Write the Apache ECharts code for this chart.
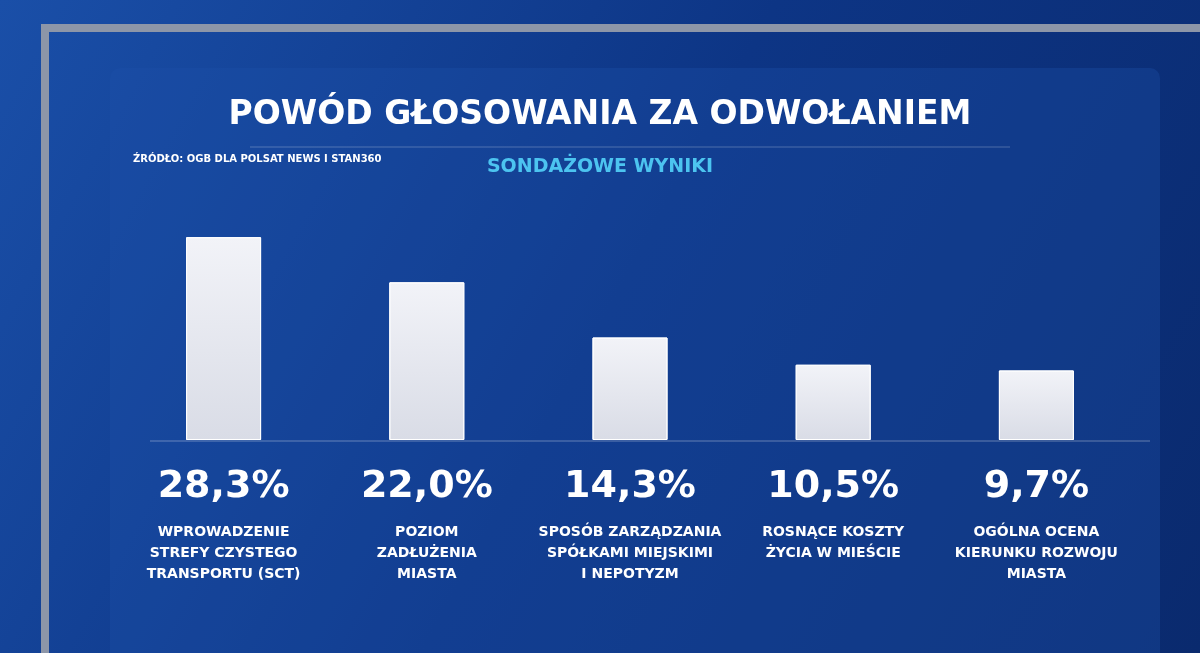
<!DOCTYPE html>
<html><head><meta charset="utf-8">
<script src="https://cdn.jsdelivr.net/npm/echarts@6/dist/echarts.min.js"></script>
<style>html,body{margin:0;padding:0;background:#0a2a6e}#c{width:1200px;height:653px}</style>
</head><body><div id="c"></div>
<script>
const categories = ["WPROWADZENIE\nSTREFY CZYSTEGO\nTRANSPORTU (SCT)", "POZIOM\nZADŁUŻENIA\nMIASTA", "SPOSÓB ZARZĄDZANIA\nSPÓŁKAMI MIEJSKIMI\nI NEPOTYZM", "ROSNĄCE KOSZTY\nŻYCIA W MIEŚCIE", "OGÓLNA OCENA\nKIERUNKU ROZWOJU\nMIASTA"];
const values = [28.3, 22.0, 14.3, 10.5, 9.7];
const valueLabels = ["28,3%", "22,0%", "14,3%", "10,5%", "9,7%"];
const F = '"DejaVu Sans", sans-serif';
const chart = echarts.init(document.getElementById('c'));
chart.setOption({
  backgroundColor: {type:'linear',x:0,y:0,x2:1,y2:1,colorStops:[{offset:0,color:'#1a4fa8'},{offset:0.5,color:'#0d3585'},{offset:1,color:'#0a2a6e'}]},
  graphic: [
    {type:'rect',shape:{x:45,y:28,width:1160,height:640},style:{fill:'none',stroke:'#8d96a8',lineWidth:8}},
    {type:'rect',shape:{x:110,y:68,width:1050,height:600,r:10},style:{fill:'rgba(30,80,170,0.35)'}},
    {type:'line',shape:{x1:150,y1:441,x2:1150,y2:441},style:{stroke:'rgba(255,255,255,0.35)',lineWidth:1}},
    {type:'line',shape:{x1:250,y1:147,x2:1010,y2:147},style:{stroke:'rgba(255,255,255,0.25)',lineWidth:1}},
    {type:'text',left:'center',top:99,style:{text:'POWÓD GŁOSOWANIA ZA ODWOŁANIEM',fill:'#fff',font:'bold 33px '+F}},
    {type:'text',left:'center',top:158,style:{text:'SONDAŻOWE WYNIKI',fill:'#4cc4f0',font:'bold 19px '+F}},
    {type:'text',left:133,top:154,style:{text:'ŹRÓDŁO: OGB DLA POLSAT NEWS I STAN360',fill:'#fff',font:'bold 10px '+F}}
  ],
  grid:{left:122,right:62,top:225,bottom:213},
  xAxis:{type:'category',data:categories,axisLine:{show:false},axisTick:{show:false},
    axisLabel:{interval:0,margin:12,
      formatter:(v,i)=>'{v|'+valueLabels[i]+'}\n{n|'+v.split('\n').join('}\n{n|')+'}',
      rich:{v:{color:'#fff',fontSize:38,fontWeight:'bold',fontFamily:F,lineHeight:70},
            n:{color:'#fff',fontSize:14,fontWeight:'bold',fontFamily:F,lineHeight:21}}}},
  yAxis:{type:'value',min:0,max:30,show:false,splitLine:{show:false}},
  series:[{type:'bar',data:values,barWidth:75,
    itemStyle:{color:{type:'linear',x:0,y:0,x2:0,y2:1,colorStops:[{offset:0,color:'#f2f3f8'},{offset:1,color:'#d9dce6'}]},borderColor:'#fff',borderWidth:1}}]
});
</script></body></html>
